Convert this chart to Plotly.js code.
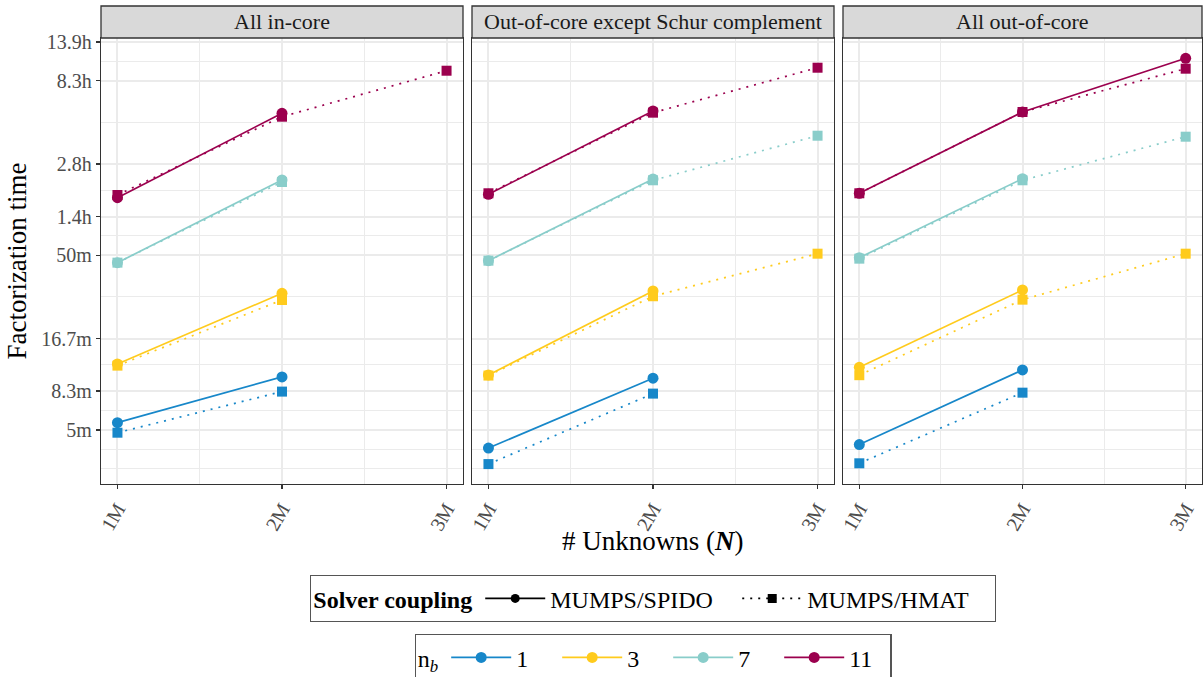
<!DOCTYPE html>
<html><head><meta charset="utf-8">
<script src="https://cdn.plot.ly/plotly-3.0.1.min.js"></script>
<style>html,body{margin:0;padding:0;background:#fff;overflow:hidden}</style>
</head><body><div id="chart" style="width:1203px;height:700px"></div>
<script>
const panelTitles = ['All in-core', 'Out-of-core except Schur complement', 'All out-of-core'];
const unknownsM = [1, 2, 3];
const xTickText = ['1M', '2M', '3M'];
const xMinorVals = [1.5, 2.5];
const nbLabels = ['1', '3', '7', '11'];
const nbColors = ['#1787C9', '#FFCB1D', '#89CDCA', '#9B004E'];
const yTickVals = [300, 500, 1000, 3000, 5000, 10000, 30000, 50000];
const yTickText = ['5m', '8.3m', '16.7m', '50m', '1.4h', '2.8h', '8.3h', '13.9h'];
const yMinorVals = [180, 233, 387, 707, 1732, 3873, 7071, 17321, 38730];
const couplingNames = ['MUMPS/SPIDO', 'MUMPS/HMAT'];

// factorization time in seconds; rows = n_b 1,3,7,11 ; columns = 1M,2M,3M unknowns
const spidoInCore = [[330, 603, null], [716, 1818, null], [2723, 8101, null], [6414, 19530, null]];
const hmatInCore  = [[289, 497, null], [700, 1664, null], [2723, 7892, null], [6648, 18670, 34240]];
const spidoOocExceptSchur = [[236, 593, null], [619, 1874, null], [2795, 8208, null], [6710, 20130, null]];
const hmatOocExceptSchur  = [[191, 484, null], [614, 1748, 3065], [2795, 8070, 14530], [6799, 19690, 35630]];
const spidoAllOoc = [[247, 661, null], [685, 1899, null], [2908, 8243, null], [6799, 19870, 40330]];
const hmatAllOoc  = [[193, 490, null], [617, 1671, 3065], [2870, 8070, 14340], [6799, 19870, 35170]];

const panelData = [[spidoInCore, hmatInCore], [spidoOocExceptSchur, hmatOocExceptSchur], [spidoAllOoc, hmatAllOoc]];

const FONT = "'Liberation Serif', 'DejaVu Serif', serif";
const DOT = '2px,6px';
const traces = [];
panelData.forEach((pd, p) => {
  const xa = p === 0 ? 'x' : 'x' + (p + 1);
  const ya = p === 0 ? 'y' : 'y' + (p + 1);
  pd.forEach((series, c) => {
    series.forEach((vals, i) => {
      traces.push({
        x: unknownsM, y: vals, xaxis: xa, yaxis: ya, type: 'scatter',
        mode: 'lines+markers', showlegend: false, hoverinfo: 'skip',
        line: {color: nbColors[i], width: 1.7, dash: c === 0 ? 'solid' : DOT},
        marker: {color: nbColors[i], size: c === 0 ? 11 : 10, symbol: c === 0 ? 'circle' : 'square'}
      });
    });
  });
});
// legend entries
couplingNames.forEach((nm, c) => {
  traces.push({x: [null], y: [null], type: 'scatter', mode: 'lines+markers', name: nm, legend: 'legend',
    line: {color: 'black', width: 1.7, dash: c === 0 ? 'solid' : DOT},
    marker: {color: 'black', size: 9, symbol: c === 0 ? 'circle' : 'square'}});
});
nbLabels.forEach((nm, i) => {
  traces.push({x: [null], y: [null], type: 'scatter', mode: 'lines+markers', name: nm, legend: 'legend2',
    line: {color: nbColors[i], width: 1.7}, marker: {color: nbColors[i], size: 11, symbol: 'circle'}});
});

const W = 1203, H = 700, L = 101, R = 1, T = 38, B = 193 + (H - 677);
const pw = W - L - R, ph = H - T - B;
const pix = [[101, 463], [472, 834], [843, 1202]];
const dom = pix.map(d => [(d[0] - L) / pw, (d[1] - L) / pw]);

function xaxis(i) {
  return {
    domain: dom[i], range: [0.9, 3.1], type: 'linear', anchor: i === 0 ? 'y' : 'y' + (i + 1),
    tickvals: unknownsM, ticktext: xTickText, tickangle: -60,
    ticks: 'outside', ticklen: 4, tickwidth: 1.3, tickcolor: '#333',
    tickfont: {family: FONT, size: 20, color: '#4D4D4D'},
    showgrid: true, gridcolor: '#EBEBEB', gridwidth: 2,
    minor: {tickvals: xMinorVals, showgrid: true, gridcolor: '#EBEBEB', gridwidth: 1, ticks: ''},
    showline: true, mirror: true, linecolor: '#333', linewidth: 1.3, zeroline: false, fixedrange: true
  };
}
function yaxis(i) {
  return {
    domain: [0, 1], type: 'log', range: [2.167, 4.722], anchor: i === 0 ? 'x' : 'x' + (i + 1),
    tickvals: yTickVals, ticktext: yTickText,
    ticks: i === 0 ? 'outside' : '', ticklen: 4, tickwidth: 1.3, tickcolor: '#333',
    showticklabels: i === 0,
    tickfont: {family: FONT, size: 20, color: '#4D4D4D'},
    showgrid: true, gridcolor: '#EBEBEB', gridwidth: 2,
    minor: {tickvals: yMinorVals, showgrid: true, gridcolor: '#EBEBEB', gridwidth: 1, ticks: ''},
    showline: true, mirror: true, linecolor: '#333', linewidth: 1.3, zeroline: false, fixedrange: true
  };
}

const stripH = 32 / ph;
const shapes = [], annotations = [];
dom.forEach((d, i) => {
  shapes.push({type: 'rect', xref: 'paper', yref: 'paper', x0: d[0], x1: d[1], y0: 1, y1: 1 + stripH,
    fillcolor: '#D9D9D9', line: {color: '#333', width: 1.3}, layer: 'above'});
  annotations.push({xref: 'paper', yref: 'paper', x: (d[0] + d[1]) / 2, y: 1 + stripH / 2,
    xanchor: 'center', yanchor: 'middle', showarrow: false, text: panelTitles[i],
    font: {family: FONT, size: 22, color: '#1A1A1A'}});
});
annotations.push({xref: 'paper', yref: 'paper', x: (dom[1][0] + dom[1][1]) / 2, y: (484 - 541) / ph,
  xanchor: 'center', yanchor: 'middle', showarrow: false, text: '# Unknowns (<b><i>N</i></b>)',
  font: {family: FONT, size: 27, color: '#000'}});

const legFont = {family: FONT, size: 24, color: '#000'};
const layout = {
  width: W, height: H, margin: {l: L, r: R, t: T, b: B},
  paper_bgcolor: '#fff', plot_bgcolor: '#fff',
  font: {family: FONT, color: '#000'},
  xaxis: xaxis(0), xaxis2: xaxis(1), xaxis3: xaxis(2),
  yaxis: Object.assign(yaxis(0), {title: {text: 'Factorization time', font: {family: FONT, size: 27, color: '#000'}, standoff: 6}}),
  yaxis2: yaxis(1), yaxis3: yaxis(2),
  shapes: shapes, annotations: annotations,
  legend: {orientation: 'h', x: (653 - L) / pw, xanchor: 'center', y: (484 - 575) / ph, yanchor: 'top',
    bordercolor: '#555', borderwidth: 1.3, font: legFont,
    title: {text: '<b>Solver coupling</b>', side: 'left', font: legFont}, itemwidth: 60, entrywidth: 182, traceorder: 'normal'},
  legend2: {orientation: 'h', x: (653 - L) / pw, xanchor: 'center', y: (484 - 634) / ph, yanchor: 'top',
    bordercolor: '#555', borderwidth: 1.3, font: legFont,
    title: {text: 'n<sub><i>b</i></sub>', side: 'left', font: legFont}, itemwidth: 60, entrywidth: 36, traceorder: 'normal'},
  showlegend: true
};
Plotly.newPlot('chart', traces, layout, {staticPlot: true, displayModeBar: false});
</script></body></html>
